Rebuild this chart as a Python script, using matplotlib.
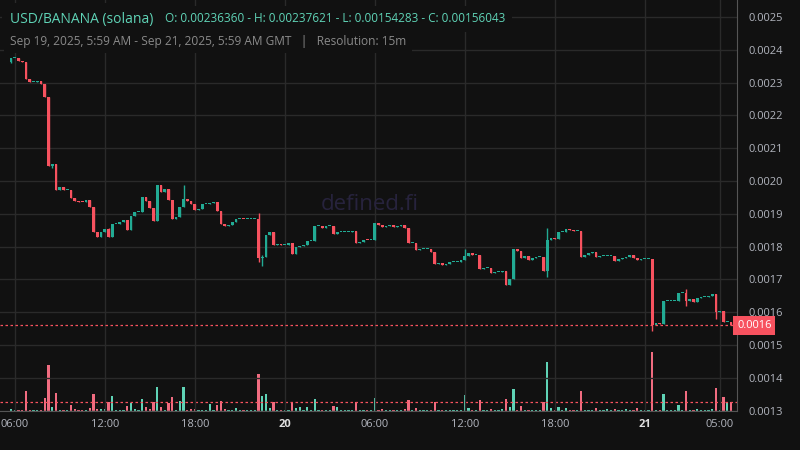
import numpy as np
import matplotlib
matplotlib.use("Agg")
from matplotlib import pyplot as plt

# 15m candles, Sep 19 05:45 -> Sep 21 05:45 (GMT); prices
first_open = 0.0023636
closes = [
    23.75, 23.75, 23.66, 23.64, 23.11, 23.03, 23.03, 23.05, 22.96, 22.56,
    20.47, 20.52, 19.73, 19.82, 19.73, 19.73, 19.49, 19.40, 19.37, 19.36,
    19.42, 19.22, 18.45, 18.30, 18.45, 18.54, 18.30, 18.69, 18.69, 18.75,
    18.81, 18.51, 18.93, 19.05, 19.05, 19.51, 19.40, 19.18, 18.79, 19.88,
    19.67, 19.76, 19.43, 18.85, 18.90, 19.21, 19.45, 19.39, 19.31, 19.13,
    19.15, 19.30, 19.30, 19.33, 19.36, 19.09, 18.69, 18.63, 18.66, 18.75,
    18.84, 18.84, 18.83, 18.84, 18.84, 18.84, 17.66, 17.68, 18.35, 18.45,
    18.05, 18.08, 18.05, 18.05, 18.11, 17.78, 17.99, 18.02, 18.05, 18.17,
    18.17, 18.62, 18.63, 18.58, 18.63, 18.63, 18.39, 18.45, 18.45, 18.45,
    18.45, 18.48, 18.12, 18.15, 18.20, 18.19, 18.19, 18.72, 18.67, 18.61,
    18.63, 18.65, 18.61, 18.64, 18.65, 18.58, 18.10, 18.10, 17.90, 17.92,
    17.92, 17.92, 17.84, 17.48, 17.49, 17.45, 17.46, 17.53, 17.53, 17.53,
    17.59, 17.70, 17.80, 17.75, 17.75, 17.33, 17.35, 17.35, 17.20, 17.22,
    17.22, 17.26, 16.83, 17.02, 17.92, 17.86, 17.66, 17.72, 17.59, 17.66,
    17.67, 17.67, 17.26, 18.20, 18.26, 18.22, 18.44, 18.44, 18.53, 18.51,
    18.48, 18.48, 17.69, 17.74, 17.80, 17.83, 17.69, 17.70, 17.70, 17.70,
    17.72, 17.57, 17.62, 17.64, 17.68, 17.74, 17.66, 17.58, 17.62, 17.62,
    17.62, 15.61, 15.66, 15.63, 16.35, 16.35, 16.35, 16.35, 16.58, 16.58,
    16.35, 16.39, 16.30, 16.44, 16.45, 16.45, 16.48, 16.55, 16.02, 16.04,
    15.71, 15.71, 15.6043,
]
closes = [c * 1e-4 for c in closes]

# candles with visible wicks beyond the body
wick_idx = [0, 11, 26, 46, 66, 67, 121, 143, 171, 180, 188]
wick_hi = [23.762, 20.52, 18.58, 19.88, 19.02, 17.74, 17.93, 18.56, 17.62, 16.71, 16.55]
wick_lo = [23.60, 20.40, 18.30, 19.39, 17.53, 17.41, 17.59, 17.08, 15.428, 16.20, 15.79]

# relative volume (bar heights)
volumes = [
    2, 1, 1, 1, 20, 1, 1, 1, 1, 13, 46, 4, 18, 1, 1, 1, 6, 2, 1, 1,
    1, 3, 17, 2, 2, 2, 9, 15, 1, 1, 1, 5, 8, 2, 1, 12, 4, 2, 9, 24,
    4, 1, 8, 14, 1, 10, 24, 1, 2, 2, 1, 1, 1, 7, 1, 6, 10, 2, 1, 1,
    3, 1, 1, 1, 1, 1, 37, 15, 17, 3, 9, 1, 1, 1, 1, 9, 3, 4, 1, 4,
    1, 12, 1, 1, 1, 1, 5, 4, 1, 1, 1, 1, 9, 1, 1, 1, 1, 13, 1, 2,
    1, 1, 1, 1, 1, 2, 11, 1, 3, 1, 1, 1, 1, 9, 1, 1, 1, 1, 1, 1,
    1, 16, 3, 1, 1, 11, 1, 1, 2, 1, 1, 2, 12, 4, 22, 1, 5, 1, 1, 1,
    1, 1, 9, 49, 3, 1, 4, 1, 3, 1, 1, 1, 20, 1, 1, 1, 3, 1, 1, 2,
    1, 2, 1, 1, 2, 1, 1, 3, 1, 1, 1, 59, 1, 1, 17, 1, 1, 1, 6, 1,
    20, 1, 1, 2, 1, 1, 1, 2, 23, 1, 14, 8, 9,
]

tick_pos = [1, 25, 49, 73, 97, 121, 145, 169, 189]
tick_labels = ["06:00", "12:00", "18:00", "20", "06:00", "12:00", "18:00", "21", "05:00"]
price_ticks = [0.0013, 0.0014, 0.0015, 0.0016, 0.0017, 0.0018, 0.0019,
               0.0020, 0.0021, 0.0022, 0.0023, 0.0024, 0.0025]

BG = "#111111"
UP = "#22ab94"
DOWN = "#f7525f"
GRID = "#2a2a2a"
TXT = "#b2b5be"

closes = np.array(closes)
opens = np.concatenate([[first_open], closes[:-1]])
highs = np.maximum(opens, closes)
lows = np.minimum(opens, closes)
for i, h, l in zip(wick_idx, wick_hi, wick_lo):
    highs[i] = max(highs[i], h * 1e-4)
    lows[i] = min(lows[i], l * 1e-4)
x = np.arange(len(closes))
up = closes >= opens
colors = np.where(up, UP, DOWN)

fig = plt.figure(figsize=(8, 4.5), dpi=100, facecolor=BG)
plt.rcParams["font.family"] = "Open Sans"
ax = fig.add_axes([0, 39 / 450, 737 / 800, 411 / 450])
ax.set_facecolor(BG)

# volume overlay, same x
vax = ax.twinx()
vax.set_ylim(0, 411)
vax.bar(x, volumes, width=0.6, color=np.where(up, "#5fd3b6", "#f06c80"), zorder=1)
vax.axhline(volumes[-1], color=DOWN, lw=0.9, ls=(0, (2, 2)))
vax.set_yticks([])
ax.set_zorder(vax.get_zorder() + 1)
ax.patch.set_visible(False)
fig.patch.set_facecolor(BG)

ax.vlines(x, lows, highs, color=colors, lw=1, zorder=3)
body = np.maximum(np.abs(closes - opens), 3e-6)
ax.bar(x, body, bottom=np.minimum(opens, closes), width=0.72, color=colors, zorder=3)

y_top = 0.0025 + 17 / 32.8 * 1e-4
y_bot = 0.0025 - 394 / 32.8 * 1e-4
ax.set_ylim(y_bot, y_top)
ax.set_xlim(-11 / 3.75, 726 / 3.75)
for p in price_ticks:
    ax.axhline(p, color=GRID, lw=1, zorder=0)
for t in tick_pos:
    ax.axvline(t, color=GRID, lw=1, zorder=0)
ax.axhline(closes[-1], color=DOWN, lw=0.9, ls=(0, (2, 2)), zorder=4)

for s in ["top", "left"]:
    ax.spines[s].set_visible(False)
    vax.spines[s].set_visible(False)
for s in ["right", "bottom"]:
    ax.spines[s].set_color("#555555")
vax.spines["right"].set_visible(False)
vax.spines["bottom"].set_visible(False)

ax.yaxis.tick_right()
ax.set_yticks(price_ticks)
ax.set_yticklabels([f"{p:.4f}" for p in price_ticks], color=TXT, fontsize=8)
ax.tick_params(axis="y", length=0, pad=8)
ax.set_xticks(tick_pos)
ax.set_xticklabels(tick_labels, color=TXT, fontsize=8)
for lbl in ax.get_xticklabels():
    if lbl.get_text() in ("20", "21"):
        lbl.set_fontweight("bold")
        lbl.set_color("#e0e0e0")
ax.tick_params(axis="x", length=0, pad=6)

ax.text(1.0, closes[-1], "0.0016", transform=ax.get_yaxis_transform(), ha="left", va="center",
        color="white", fontsize=8, zorder=6,
        bbox=dict(boxstyle="square,pad=0.35", fc=DOWN, ec="none"))

fig.text(370 / 800, 1 - 205 / 450, "defined.fi", color="#27233d", fontsize=16,
         ha="center", va="center")

fig.text(165 / 800, 1 - 19 / 450, "O: 0.00236360 - H: 0.00237621 - L: 0.00154283 - C: 0.00156043",
         color="#5fd3b6", fontsize=8.5, va="center", bbox=dict(fc=BG, ec="none", pad=5))
fig.text(10 / 800, 1 - 19 / 450, "USD/BANANA (solana)", color="#5fd3b6", fontsize=10,
         va="center", bbox=dict(fc=BG, ec="none", pad=6))
fig.text(10 / 800, 1 - 41 / 450,
         "Sep 19, 2025, 5:59 AM - Sep 21, 2025, 5:59 AM GMT   |   Resolution: 15m",
         color="#8a8a8a", fontsize=8.6, va="center", bbox=dict(fc=BG, ec="none", pad=4))

fig.savefig("out.png", dpi=100, facecolor=BG)
